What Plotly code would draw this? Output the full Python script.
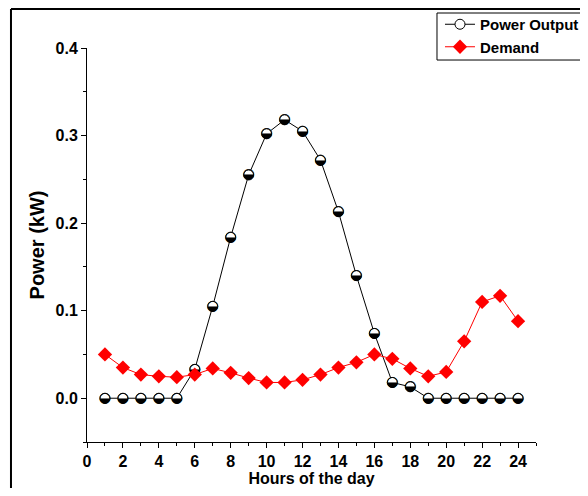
import plotly.graph_objects as go

hours = list(range(1, 25))
power_output = [0, 0, 0, 0, 0, 0.033, 0.105, 0.184, 0.255, 0.302, 0.318, 0.305,
                0.272, 0.213, 0.140, 0.074, 0.018, 0.013, 0, 0, 0, 0, 0, 0]
demand = [0.050, 0.035, 0.027, 0.025, 0.024, 0.027, 0.034, 0.029, 0.023, 0.018,
          0.018, 0.021, 0.027, 0.035, 0.041, 0.050, 0.045, 0.034, 0.025, 0.030,
          0.065, 0.110, 0.117, 0.088]

FONT = "Liberation Sans, Arial, sans-serif"

fig = go.Figure()
fig.add_trace(go.Scatter(
    x=hours, y=power_output, mode="lines+markers", name="<b>Power Output</b>",
    line=dict(color="black", width=1),
    marker=dict(symbol="circle", size=10, color="white", line=dict(color="black", width=1)),
))
fig.add_trace(go.Scatter(
    x=hours, y=power_output, mode="text", text=["◒"] * len(hours),
    textfont=dict(family="DejaVu Sans", size=14, color="black"),
    textposition="middle center", showlegend=False, hoverinfo="skip",
))
fig.add_trace(go.Scatter(
    x=hours, y=demand, mode="lines+markers", name="<b>Demand</b>",
    line=dict(color="red", width=1),
    marker=dict(symbol="diamond", size=11, color="red"),
))

fig.update_layout(
    width=580, height=480,
    margin=dict(l=79, r=52, t=40, b=46, autoexpand=False),
    paper_bgcolor="white", plot_bgcolor="white",
    font=dict(family=FONT, color="black"),
    showlegend=True,
    legend=dict(xref="container", yref="container",
                x=0.9931, xanchor="right", y=1.0, yanchor="top",
                borderwidth=0, bgcolor="rgba(0,0,0,0)",
                font=dict(family=FONT, size=15, color="black"),
                tracegroupgap=0, itemwidth=30),
    xaxis=dict(range=[0, 25], tickmode="array", tickvals=list(range(0, 25, 2)),
               ticktext=[f"<b>{v}</b>" for v in range(0, 25, 2)],
               ticks="outside", ticklen=5, tickwidth=1, tickcolor="black",
               minor=dict(dtick=1, tick0=0, ticks="outside", ticklen=3, tickcolor="black"),
               showline=True, linecolor="black", linewidth=1, showgrid=False, zeroline=False,
               tickfont=dict(size=16), automargin=False,
               title=dict(text="<b>Hours of the day</b>", font=dict(size=16), standoff=3)),
    yaxis=dict(range=[-0.05, 0.4], tickmode="array", tickvals=[0, 0.1, 0.2, 0.3, 0.4],
               ticktext=["<b>0.0</b>", "<b>0.1</b>", "<b>0.2</b>", "<b>0.3</b>", "<b>0.4</b>"],
               ticks="outside", ticklen=5, tickwidth=1, tickcolor="black",
               minor=dict(dtick=0.05, tick0=0, ticks="outside", ticklen=3, tickcolor="black"),
               showline=True, linecolor="black", linewidth=1, showgrid=False, zeroline=False,
               tickfont=dict(size=16), automargin=False,
               title=dict(text="<b>Power (kW)</b>", font=dict(size=20), standoff=5)),
    shapes=[
        dict(type="line", xref="paper", yref="paper", x0=-0.1693, x1=-0.1693, y0=-0.14, y1=1.099,
             line=dict(color="black", width=2)),
        dict(type="line", xref="paper", yref="paper", x0=-0.1693, x1=1.2, y0=1.099, y1=1.099,
             line=dict(color="black", width=2)),
        dict(type="rect", xref="paper", yref="paper", x0=0.7795, x1=1.1069, y0=0.9695, y1=1.0888,
             line=dict(color="black", width=1), fillcolor="rgba(0,0,0,0)", layer="above"),
    ],
)

fig.write_html("out.html")
